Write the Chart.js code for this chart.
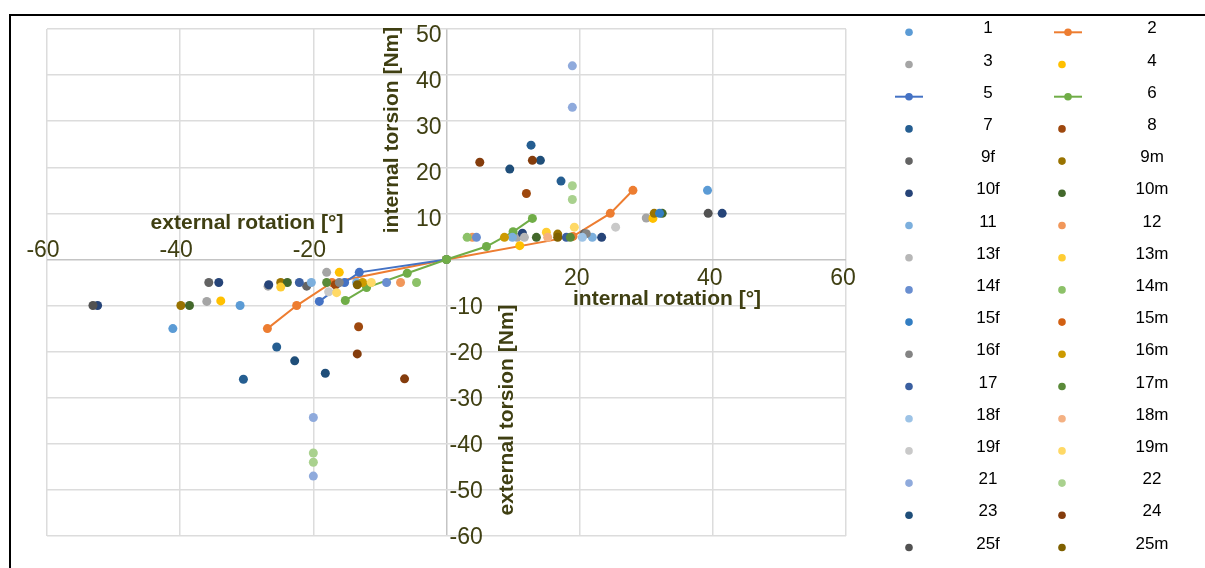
<!DOCTYPE html>
<html>
<head>
<meta charset="utf-8">
<script src="https://cdn.jsdelivr.net/npm/chart.js@4/dist/chart.umd.min.js"></script>
<style>
  html, body { margin: 0; padding: 0; background: #fff; }
  #wrap { width: 1205px; height: 568px; }
</style>
</head>
<body>
<div id="wrap"><canvas id="chart" width="1205" height="568"></canvas></div>
<script>
// torsion test: rotation [deg] vs torsion [Nm], one array per specimen
var s1 = [[-41.1, -15], [-31, -10], [39.2, 15]];
var s2 = [[-26.9, -15], [-22.5, -10], [-17.2, -5], [0, 0], [19, 5], [24.6, 10], [28, 15]];
var s3 = [[-36, -9.1], [-26.8, -5.8], [-18, -2.8], [10.6, 4.8], [30, 9]];
var s4 = [[-33.9, -9], [-16.1, -2.8], [0, 0], [11, 3], [31, 8.9]];
var s5 = [[-19.1, -9.1], [-15.3, -5], [-13.1, -2.8], [0, 0]];
var s6 = [[-15.2, -8.9], [-12, -6.1], [-5.9, -3], [0, 0], [6, 2.8], [10, 6], [12.9, 8.9]];
var s7 = [[-30.5, -26], [-25.5, -19], [12.7, 24.8], [17.2, 17]];
var s8 = [[-13.2, -14.6], [-16.7, -5.5], [12, 14.3]];
var s9f = [[-35.7, -5], [-21, -5.8], [20.7, 5.6]];
var s9m = [[-39.9, -10], [-24.9, -5], [16.7, 5.5], [31.2, 10]];
var s10f = [[-52.4, -10], [-34.2, -5], [-26.7, -5.5], [11.4, 5.7], [23.3, 4.8], [41.4, 10]];
var s10m = [[-38.6, -10], [-23.9, -5], [13.5, 4.8], [32.4, 10]];
var s11 = [[-20.3, -5], [-13.5, -5], [9.9, 4.8], [21.9, 4.8]];
var s12 = [[-6.9, -5], [3.9, 4.8]];
var s13f = [[11.7, 4.8]];
var s13m = [[-24.9, -6], [15, 5.9]];
var s14f = [[-9, -5], [4.5, 4.8]];
var s14m = [[-4.5, -5], [3.1, 4.8]];
var s15f = [[32, 10]];
var s15m = [];
var s16f = [[-16.1, -5], [21, 5.6]];
var s16m = [[-12.6, -5], [8.7, 4.8]];
var s17 = [[-22.1, -5], [18, 4.8]];
var s17m = [[-18, -5], [18.6, 4.8]];
var s18f = [[20.4, 4.8]];
var s18m = [[15.2, 4.8]];
var s19f = [[-17.7, -7], [25.4, 7]];
var s19m = [[-16.5, -7.2], [-11.3, -5], [19.2, 7]];
var s21 = [[-20, -34.3], [-20, -47], [18.9, 42], [18.9, 33]];
var s22 = [[-20, -42], [-20, -44], [18.9, 16], [18.9, 13]];
var s23 = [[-22.8, -22], [-18.2, -24.7], [9.5, 19.6], [14.1, 21.5]];
var s24 = [[-13.4, -20.5], [-6.3, -25.9], [5, 21.1], [12.9, 21.5]];
var s25f = [[-53.1, -10], [39.3, 10]];
var s25m = [[-13.4, -5.5], [16.7, 4.8]];

var seriesNames = ['1', '2', '3', '4', '5', '6', '7', '8', '9f', '9m', '10f', '10m', '11', '12',
  '13f', '13m', '14f', '14m', '15f', '15m', '16f', '16m', '17', '17m', '18f', '18m',
  '19f', '19m', '21', '22', '23', '24', '25f', '25m'];
var seriesData = [s1, s2, s3, s4, s5, s6, s7, s8, s9f, s9m, s10f, s10m, s11, s12,
  s13f, s13m, s14f, s14m, s15f, s15m, s16f, s16m, s17, s17m, s18f, s18m,
  s19f, s19m, s21, s22, s23, s24, s25f, s25m];
var withLine = ['2', '5', '6'];

var xTicksNeg = [-60, -40, -20];
var xTicksPos = [20, 40, 60];
var yTicksPos = [10, 20, 30, 40, 50];
var yTicksNeg = [-10, -20, -30, -40, -50, -60];

// office palette
var palette = ['#5B9BD5', '#ED7D31', '#A5A5A5', '#FFC000', '#4472C4', '#70AD47',
  '#255E91', '#9E480E', '#636363', '#997300', '#264478', '#43682B',
  '#7CAFDD', '#F1975A', '#B7B7B7', '#FFCD33', '#698ED0', '#8CC168',
  '#327DC2', '#D26012', '#848484', '#CC9A00', '#3A5FA0', '#5A8A39',
  '#9DC3E6', '#F4B183', '#C9C9C9', '#FFD966', '#8FAADC', '#A9D18E',
  '#1F4E79', '#843C0C', '#525252', '#7F6000'];

var axisColor = '#3f3f12';
var font = '"Liberation Sans", Arial, sans-serif';

var datasets = seriesNames.map(function (name, i) {
  var line = withLine.indexOf(name) >= 0;
  return {
    label: name,
    data: seriesData[i].map(function (p) { return { x: p[0], y: p[1] }; }),
    backgroundColor: palette[i],
    borderColor: palette[i],
    pointRadius: 4.5,
    pointBorderWidth: 0,
    pointHoverRadius: 4.5,
    showLine: line,
    borderWidth: 2,
    order: seriesNames.length - i
  };
});

var axisLabels = {
  id: 'axisLabels',
  afterDraw: function (chart) {
    var ctx = chart.ctx;
    var xs = chart.scales.x, ys = chart.scales.y;
    var x0 = xs.getPixelForValue(0), y0 = ys.getPixelForValue(0);
    ctx.save();

    // frame
    ctx.strokeStyle = '#000';
    ctx.lineWidth = 2;
    ctx.beginPath();
    ctx.moveTo(10, 568);
    ctx.lineTo(10, 15);
    ctx.lineTo(1205, 15);
    ctx.stroke();

    ctx.fillStyle = axisColor;
    ctx.font = '23px ' + font;
    ctx.textAlign = 'center';
    ctx.textBaseline = 'alphabetic';
    xTicksNeg.forEach(function (v) {
      ctx.fillText(String(v), xs.getPixelForValue(v) - 4, y0 - 2);
    });
    xTicksPos.forEach(function (v) {
      ctx.fillText(String(v), xs.getPixelForValue(v) - 3, y0 + 26);
    });
    ctx.textAlign = 'right';
    yTicksPos.forEach(function (v) {
      ctx.fillText(String(v), x0 - 5, ys.getPixelForValue(v) + 12.5);
    });
    ctx.textAlign = 'left';
    yTicksNeg.forEach(function (v) {
      ctx.fillText(String(v), x0 + 3, ys.getPixelForValue(v) + 8);
    });

    // axis titles
    ctx.font = 'bold 21px ' + font;
    ctx.textAlign = 'center';
    ctx.fillText('external rotation [°]', 247, 229);
    ctx.fillText('internal rotation [°]', 667, 305);
    ctx.save();
    ctx.translate(398, 130);
    ctx.rotate(-Math.PI / 2);
    ctx.fillText('internal torsion [Nm]', 0, 0);
    ctx.restore();
    ctx.save();
    ctx.translate(513, 410);
    ctx.rotate(-Math.PI / 2);
    ctx.fillText('external torsion [Nm]', 0, 0);
    ctx.restore();

    // legend, two columns
    ctx.font = '17px ' + font;
    ctx.textAlign = 'center';
    chart.data.datasets.forEach(function (ds, i) {
      var row = Math.floor(i / 2), col = i % 2;
      var my = 32.3 + row * 32.2;
      var mx = col ? 1062 : 909;
      if (ds.showLine) {
        if (col) mx = 1068;
        ctx.strokeStyle = ds.borderColor;
        ctx.lineWidth = 2;
        ctx.beginPath();
        ctx.moveTo(mx - 14, my);
        ctx.lineTo(mx + 14, my);
        ctx.stroke();
      }
      ctx.fillStyle = ds.backgroundColor;
      ctx.beginPath();
      ctx.arc(mx, my, 3.8, 0, Math.PI * 2);
      ctx.fill();
      ctx.fillStyle = '#000';
      ctx.fillText(ds.label, col ? 1152 : 988, my + 1);
    });
    ctx.restore();
  }
};

var gridColor = function (c) {
  return c.tick && c.tick.value === 0 ? '#c4c4c4' : '#dcdcdc';
};

new Chart(document.getElementById('chart').getContext('2d'), {
  type: 'scatter',
  data: { datasets: datasets },
  options: {
    responsive: false,
    animation: false,
    layout: { padding: { left: 47, top: 29, right: 359, bottom: 32 } },
    plugins: {
      legend: { display: false },
      tooltip: { enabled: false }
    },
    scales: {
      x: {
        min: -60, max: 60,
        ticks: { display: false, stepSize: 20 },
        grid: { color: gridColor, lineWidth: 1.5, drawTicks: false },
        border: { display: false }
      },
      y: {
        min: -60, max: 50,
        ticks: { display: false, stepSize: 10 },
        grid: { color: gridColor, lineWidth: 1.5, drawTicks: false },
        border: { display: false }
      }
    }
  },
  plugins: [axisLabels]
});
</script>
</body>
</html>
